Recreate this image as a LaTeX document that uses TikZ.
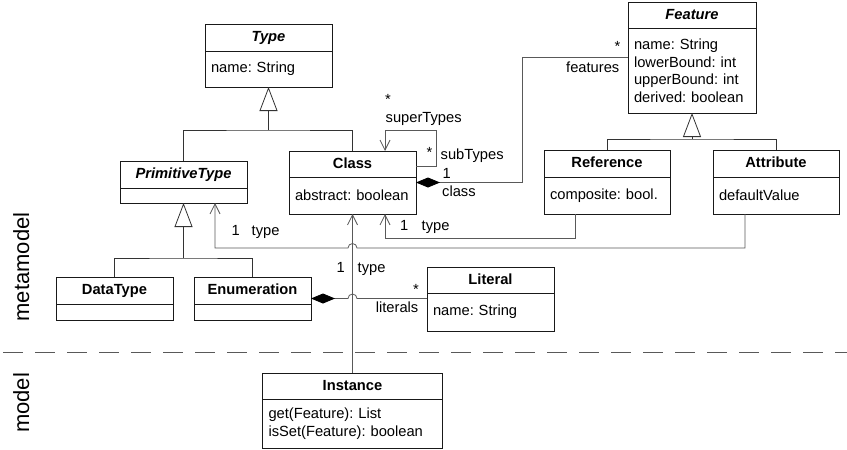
\documentclass[tikz,border=0pt]{standalone}
\usepackage{fontspec}
\setmainfont{Liberation Sans}
\usetikzlibrary{arrows.meta,positioning}
\tikzstyle{umlhead} = [draw=black!90, line width=1pt, anchor=north west,
    inner sep=0pt, outer sep=0pt, font=\bfseries, text height=11pt, text depth=3pt]
\tikzstyle{umlbody} = [draw=black!90, line width=1pt, align=left,
    inner xsep=6pt, inner ysep=0pt, outer sep=0pt]
\tikzstyle{conn} = [draw=black!65, line width=0.8pt]
\tikzstyle{gen} = [draw=black!80, line width=0.8pt, -{Triangle[open, length=24pt, width=18pt]}]
\tikzstyle{assoc} = [conn, -{Straight Barb[length=10pt, width=10pt]}]
\tikzstyle{comp} = [conn, {Diamond[length=24pt, width=10pt, color=black]}-]
\tikzstyle{rolelabel} = [inner sep=0pt]
\tikzstyle{levellabel} = [rotate=90, anchor=base, inner sep=0pt, font=\fontsize{22}{26}\selectfont]

\begin{document}
\begin{tikzpicture}[x=1pt, y=-1pt]
    \fontsize{14.7}{17.5}\selectfont\frenchspacing
    \useasboundingbox (0,0) rectangle (847,450);

    % classes
    \node[umlhead, font=\bfseries\itshape, minimum width=127pt, minimum height=27pt] (typeH) at (205,24) {Type};
    \node[umlbody, below=0pt of typeH, text width=115pt, minimum height=36pt] (typeB) {name: String};
    \node[umlhead, font=\bfseries\itshape, minimum width=127pt, minimum height=27pt] (primH) at (120,161) {PrimitiveType};
    \node[umlbody, below=0pt of primH, text width=115pt, minimum height=15pt] (primB) {};
    \node[umlhead, minimum width=127pt, minimum height=26pt] (classH) at (289,151) {Class};
    \node[umlbody, below=0pt of classH, text width=115pt, minimum height=37pt] (classB) {abstract: boolean};
    \node[umlhead, font=\bfseries\itshape, minimum width=128pt, minimum height=26pt] (featH) at (628,2) {Feature};
    \node[umlbody, below=0pt of featH, text width=116pt, minimum height=85pt] (featB) {name: String\\lowerBound: int\\upperBound: int\\derived: boolean};
    \node[umlhead, minimum width=126pt, minimum height=27pt] (refH) at (544,150) {Reference};
    \node[umlbody, below=0pt of refH, text width=114pt, minimum height=37pt] (refB) {composite: bool.};
    \node[umlhead, minimum width=126pt, minimum height=27pt] (attrH) at (713,150) {Attribute};
    \node[umlbody, below=0pt of attrH, text width=114pt, minimum height=37pt] (attrB) {defaultValue};
    \node[umlhead, minimum width=117pt, minimum height=27pt] (dataH) at (56,277) {DataType};
    \node[umlbody, below=0pt of dataH, text width=105pt, minimum height=16pt] (dataB) {};
    \node[umlhead, minimum width=117pt, minimum height=27pt] (enumH) at (194,277) {Enumeration};
    \node[umlbody, below=0pt of enumH, text width=105pt, minimum height=16pt] (enumB) {};
    \node[umlhead, minimum width=127pt, minimum height=26pt] (litH) at (427,267) {Literal};
    \node[umlbody, below=0pt of litH, text width=115pt, minimum height=38pt] (litB) {name: String};
    \node[umlhead, minimum width=180pt, minimum height=26pt] (instH) at (262.5,373) {Instance};
    \node[umlbody, below=0pt of instH, text width=168pt, minimum height=49pt] (instB) {get(Feature): List\\isSet(Feature): boolean};

    % generalizations
    \coordinate (typeJ) at ([yshift=-43pt]typeB.south);
    \coordinate (featJ) at ([yshift=-26pt]featB.south);
    \coordinate (primJ) at ([yshift=-55pt]primB.south);
    \draw[conn, draw=black!80] (primH.north) |- (typeJ) -| (classH.north);
    \draw[gen] (typeJ) -- (typeB.south);
    \draw[conn, draw=black!80] (refH.north) |- (featJ) -| (attrH.north);
    \draw[gen] (featJ) -- (featB.south);
    \draw[conn, draw=black!80] (dataH.north) |- (primJ) -| (enumH.north);
    \draw[gen] (primJ) -- (primB.south);

    % associations
    \draw[assoc] ([yshift=-15pt]classH.north east) -- ++(20,0) -- ++(0,-36) -| ([xshift=32.5pt]classH.north);
    \draw[comp] ([yshift=-5.5pt]classB.north east) -- ++(106,0) |- ([yshift=-29.5pt]featB.north west);
    \draw[assoc] ([xshift=-32pt]refB.south) -- ++(0,24) -| ([xshift=32.5pt]classB.south);
    \coordinate (attrT) at ([xshift=-31pt,yshift=-34pt]attrB.south);
    \coordinate (hopT) at (classB.south |- attrT);
    \draw[assoc] ([xshift=-31pt]attrB.south) -- (attrT) -- ([xshift=4.5pt]hopT)
        arc[start angle=0, end angle=180, radius=4.5pt] -| ([xshift=31.5pt]primB.south);
    \draw[assoc] (instH.north) -- (classB.south);
    \coordinate (enumE) at ([yshift=5.5pt]enumB.north east);
    \coordinate (hopL) at (classB.south |- enumE);
    \draw[comp] (enumE) -- ([xshift=-4.5pt]hopL)
        arc[start angle=180, end angle=0, radius=4.5pt] -- ([yshift=-5.5pt]litB.north west);

    % role names and multiplicities
    \node[rolelabel, anchor=base west] (superM) at (385,104.5) {*};
    \node[rolelabel, anchor=base west] (superR) at (385.5,122) {superTypes};
    \node[rolelabel, anchor=base west] (subM) at (426.5,157) {*};
    \node[rolelabel, anchor=base west] (subR) at (440.5,159.5) {subTypes};
    \node[rolelabel, anchor=base west] (classM) at (442.4,178) {1};
    \node[rolelabel, anchor=base west] (classR) at (442,196) {class};
    \node[rolelabel, anchor=base west] (featM) at (614.3,51) {*};
    \node[rolelabel, anchor=base east] (featR) at (619.5,72.5) {features};
    \node[rolelabel, anchor=base west] (primM) at (231.4,235) {1};
    \node[rolelabel, anchor=base west] (primR) at (251.5,235) {type};
    \node[rolelabel, anchor=base west] (refM) at (400,230) {1};
    \node[rolelabel, anchor=base west] (refR) at (421.5,230) {type};
    \node[rolelabel, anchor=base west] (instM) at (336.5,272) {1};
    \node[rolelabel, anchor=base west] (instR) at (357.5,272) {type};
    \node[rolelabel, anchor=base west] (litM) at (412.8,294) {*};
    \node[rolelabel, anchor=base east] (litR) at (418.5,312) {literals};

    % levels
    \coordinate (sepL) at (3,352);
    \coordinate (sepR) at (847,352);
    \draw[draw=black!65, line width=0.8pt, dash pattern=on 20pt off 12pt] (sepL) -- (sepR);
    \node[levellabel] (metaL) at (29,267) {metamodel};
    \node[levellabel] (modelL) at (29,403) {model};
\end{tikzpicture}
\end{document}
